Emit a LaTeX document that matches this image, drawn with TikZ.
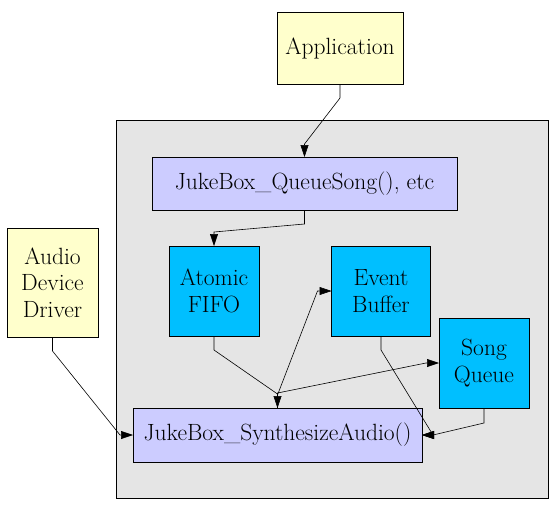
\documentclass[tikz,border=0pt]{standalone}
\usetikzlibrary{calc, arrows.meta}

\begin{document}
\begin{tikzpicture}[x=1pt,y=-1pt,
    box/.style={draw,line width=0.8pt,inner sep=0pt,outer sep=0pt,align=center,font=\fontsize{23.5}{26.7}\selectfont},
    app/.style={box,fill={rgb,255:red,255;green,255;blue,204}},
    api/.style={box,fill={rgb,255:red,204;green,204;blue,255}},
    part/.style={box,fill={rgb,255:red,0;green,191;blue,255}},
    edge/.style={line width=0.6pt,-{Triangle[length=12pt,width=8pt]}}]
    \useasboundingbox (0,0) rectangle (557,506);
    \draw[line width=0.8pt,fill={rgb,255:red,229;green,229;blue,229}] (116,120) rectangle (548,498);
    \node[app,minimum width=126,minimum height=72] (application) at (340,48) {Application};
    \node[app,minimum width=91,minimum height=109] (driver) at (52.5,282.5) {Audio\\Device\\Driver};
    \node[api,minimum width=305,minimum height=53] (queuesong) at (304.5,183.5) {JukeBox\_QueueSong(), etc};
    \node[api,minimum width=289,minimum height=54] (synth) at (277.5,435) {JukeBox\_SynthesizeAudio()};
    \node[part,minimum width=90,minimum height=90] (fifo) at (214,291) {Atomic\\FIFO};
    \node[part,minimum width=99,minimum height=90] (eventbuf) at (381,291) {Event\\Buffer};
    \node[part,minimum width=90,minimum height=90] (songqueue) at (484,363) {Song\\Queue};
    \draw[edge] (application.south) -- ++(0,14) -- ($(queuesong.north)+(0,-13)$) -- (queuesong.north);
    \draw[edge] (queuesong.south) -- ++(0,14) -- ($(fifo.north)+(0,-14)$) -- (fifo.north);
    \draw[edge] (fifo.south) -- ++(0,14) -- ($(synth.north)+(0,-14)$) -- (synth.north);
    \draw[edge] (synth.north) -- ++(0,-13) -- ($(eventbuf.west)+(-14,0)$) -- (eventbuf.west);
    \draw[edge] (synth.north) -- ++(0,-15) -- ($(songqueue.west)+(-13,0)$) -- (songqueue.west);
    \draw[edge] (eventbuf.south) -- ++(0,14) -- ($(synth.east)+(11,0)$) -- (synth.east);
    \draw[edge] (songqueue.south) -- ++(0,15) -- ($(synth.east)+(11,0)$) -- (synth.east);
    \draw[edge] (driver.south) -- ++(0,14) -- ($(synth.west)+(-13,0)$) -- (synth.west);
\end{tikzpicture}
\end{document}
